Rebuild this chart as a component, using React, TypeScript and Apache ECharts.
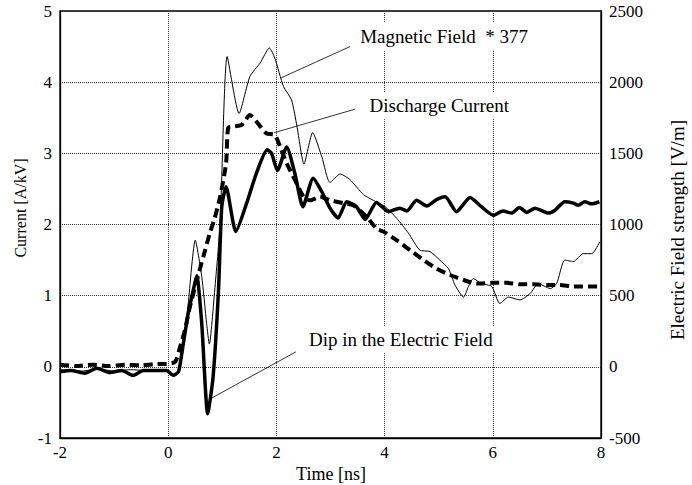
import React, { useEffect, useRef } from "react";
import * as echarts from "echarts";

// Discharge current [A/kV] (left axis)
const dischargeTime = [-2, -1.7, -1.4, -1.1, -0.8, -0.5, -0.2, -0.03, 0.13, 0.22, 0.31, 0.4, 0.53, 0.65, 0.77, 0.86, 0.96, 1.07, 1.11, 1.23, 1.36, 1.51, 1.7, 1.82, 1.97, 2.07, 2.19, 2.34, 2.5, 2.62, 2.81, 2.99, 3.24, 3.42, 3.67, 3.85, 3.98, 4.22, 4.47, 4.72, 4.96, 5.21, 5.46, 5.7, 6.01, 6.26, 6.5, 6.75, 7.0, 7.24, 7.49, 7.98];
const dischargeCurrent = [0.03, 0.01, 0.03, 0.01, 0.03, 0.02, 0.04, 0.04, 0.07, 0.28, 0.52, 0.84, 1.22, 1.55, 1.88, 2.09, 2.39, 2.86, 3.36, 3.38, 3.4, 3.54, 3.38, 3.28, 3.26, 3.09, 2.86, 2.63, 2.39, 2.34, 2.39, 2.34, 2.3, 2.27, 2.11, 1.94, 1.9, 1.78, 1.64, 1.5, 1.38, 1.29, 1.22, 1.17, 1.18, 1.18, 1.16, 1.16, 1.15, 1.15, 1.13, 1.13];

// Electric field [V/m] (right axis)
const electricTime = [-2, -1.8, -1.54, -1.32, -1.08, -0.86, -0.65, -0.46, -0.25, -0.03, 0.09, 0.19, 0.28, 0.37, 0.5, 0.53, 0.62, 0.73, 0.83, 0.93, 0.99, 1.07, 1.25, 1.45, 1.63, 1.83, 1.91, 2.02, 2.19, 2.34, 2.49, 2.68, 2.84, 2.99, 3.14, 3.3, 3.48, 3.64, 3.85, 4.07, 4.28, 4.41, 4.59, 4.78, 4.96, 5.12, 5.33, 5.58, 5.79, 6.01, 6.19, 6.35, 6.49, 6.63, 6.78, 7.03, 7.15, 7.33, 7.49, 7.58, 7.7, 7.83, 7.97];
const electricField = [-35, -25, -45, -10, -40, -25, -60, -25, -25, -25, -60, -35, 165, 375, 600, 640, 305, -330, -70, 540, 1125, 1265, 950, 1150, 1360, 1525, 1500, 1380, 1545, 1360, 1125, 1325, 1230, 1115, 1045, 1160, 1125, 1035, 1155, 1090, 1115, 1095, 1170, 1130, 1175, 1195, 1090, 1190, 1125, 1065, 1095, 1080, 1120, 1085, 1115, 1080, 1100, 1160, 1150, 1135, 1160, 1145, 1160];

// Magnetic field * 377 [V/m] (right axis)
const magneticTime = [-2, -1.6, -1.3, -1.0, -0.7, -0.4, -0.03, 0.09, 0.19, 0.28, 0.37, 0.5, 0.62, 0.71, 0.76, 0.86, 0.96, 1.09, 1.31, 1.51, 1.7, 1.87, 1.97, 2.13, 2.28, 2.38, 2.51, 2.67, 2.84, 2.99, 3.18, 3.36, 3.61, 3.79, 4.01, 4.22, 4.44, 4.65, 4.84, 5.02, 5.18, 5.3, 5.46, 5.55, 5.64, 5.79, 5.98, 6.13, 6.29, 6.5, 6.69, 6.84, 7.06, 7.18, 7.33, 7.49, 7.67, 7.83, 7.98];
const magneticField = [-20, -30, -15, -30, -20, -25, -25, -55, -35, 140, 445, 890, 635, 305, 160, 540, 1010, 2180, 1780, 2040, 2135, 2240, 2170, 1970, 1875, 1690, 1425, 1645, 1475, 1295, 1355, 1315, 1210, 1170, 1125, 1045, 940, 820, 810, 750, 690, 575, 490, 565, 620, 585, 565, 445, 490, 470, 515, 585, 550, 585, 750, 740, 795, 795, 880];

// Annotations: text, label centre (t, current), leader start, leader end
const annotationTexts = ["Magnetic Field  * 377", "Discharge Current", "Dip in the Electric Field"];
const annotationAt = [[5.1, 4.64], [5.01, 3.67], [4.3, 0.385]];
const leaderFrom = [[3.36, 4.5], [3.45, 3.62], [2.36, 0.21]];
const leaderTo = [[2.085, 4.06], [1.96, 3.29], [0.8, -0.44]];

const zip = (t: number[], v: number[]) => t.map((x, i) => [x, v[i]]);

export default function App() {
  const ref = useRef<HTMLDivElement>(null);
  useEffect(() => {
    const chart = echarts.init(ref.current!, null, { renderer: "svg" });
    const serif = "Liberation Serif";
    const tickLabel = { color: "#000", fontFamily: serif, fontSize: 17, formatter: (v: number) => String(v) };
    const dotted = { show: true, lineStyle: { type: "dotted", color: "#333", width: 1 } };
    chart.setOption({
      animation: false,
      backgroundColor: "#fff",
      textStyle: { fontFamily: serif },
      grid: { left: 60, right: 91, top: 11, bottom: 47, show: true, borderColor: "#000", borderWidth: 1.3, backgroundColor: "transparent" },
      xAxis: {
        type: "value", min: -2, max: 8, interval: 2,
        axisLine: { onZero: false, lineStyle: { color: "#000", width: 1.3 } },
        axisTick: { show: false },
        axisLabel: { ...tickLabel, margin: 6 },
        splitLine: dotted,
      },
      yAxis: [
        {
          type: "value", min: -1, max: 5, interval: 1,
          axisLine: { show: true, onZero: false, lineStyle: { color: "#000", width: 1.3 } },
          axisTick: { show: false },
          axisLabel: { ...tickLabel, margin: 8 },
          splitLine: dotted,
        },
        {
          type: "value", min: -500, max: 2500, interval: 500, position: "right",
          axisLine: { show: true, onZero: false, lineStyle: { color: "#000", width: 1.3 } },
          axisTick: { show: false },
          axisLabel: { ...tickLabel, margin: 8 },
          splitLine: { show: false },
        },
      ],
      series: [
        {
          name: "Magnetic Field * 377", type: "line", yAxisIndex: 1, showSymbol: false, smooth: 0.2,
          data: zip(magneticTime, magneticField),
          lineStyle: { color: "#000", width: 1 }, z: 3,
        },
        {
          name: "Discharge Current", type: "line", yAxisIndex: 0, showSymbol: false, smooth: 0.2,
          data: zip(dischargeTime, dischargeCurrent),
          lineStyle: { color: "#000", width: 4, type: [9, 5] }, z: 2,
        },
        {
          name: "Electric Field", type: "line", yAxisIndex: 1, showSymbol: false, smooth: 0.2,
          data: zip(electricTime, electricField),
          lineStyle: { color: "#000", width: 3.5 }, z: 4,
        },
      ],
    });

    const toPx = (p: number[]) => chart.convertToPixel({ xAxisIndex: 0, yAxisIndex: 0 }, p) as number[];
    const elements: any[] = [];
    const centred = { fill: "#000", align: "center", verticalAlign: "middle", textAlign: "center", textVerticalAlign: "middle" };
    annotationTexts.forEach((text, i) => {
      const c = toPx(annotationAt[i]);
      const a = toPx(leaderFrom[i]);
      const b = toPx(leaderTo[i]);
      elements.push({
        type: "line", z: 10,
        shape: { x1: a[0], y1: a[1], x2: b[0], y2: b[1] },
        style: { stroke: "#000", lineWidth: 0.8 },
      });
      elements.push({
        type: "text", x: c[0], y: c[1], z: 11,
        style: { ...centred, text, font: `19px ${serif}`, backgroundColor: "#fff", padding: [4, 5] },
      });
    });
    elements.push({
      type: "text", x: 20, y: 208, rotation: Math.PI / 2, z: 11,
      style: { ...centred, text: "Current [A/kV]", font: `16px ${serif}` },
    });
    elements.push({
      type: "text", x: 677, y: 230, rotation: Math.PI / 2, z: 11,
      style: { ...centred, text: "Electric Field strength [V/m]", font: `19px ${serif}` },
    });
    elements.push({
      type: "text", x: 331, y: 474, z: 11,
      style: { ...centred, text: "Time [ns]", font: `18px ${serif}` },
    });
    chart.setOption({ graphic: { elements } });

    return () => chart.dispose();
  }, []);
  return <div ref={ref} style={{ position: "absolute", left: 0, top: 0, width: 692, height: 485 }} />;
}
